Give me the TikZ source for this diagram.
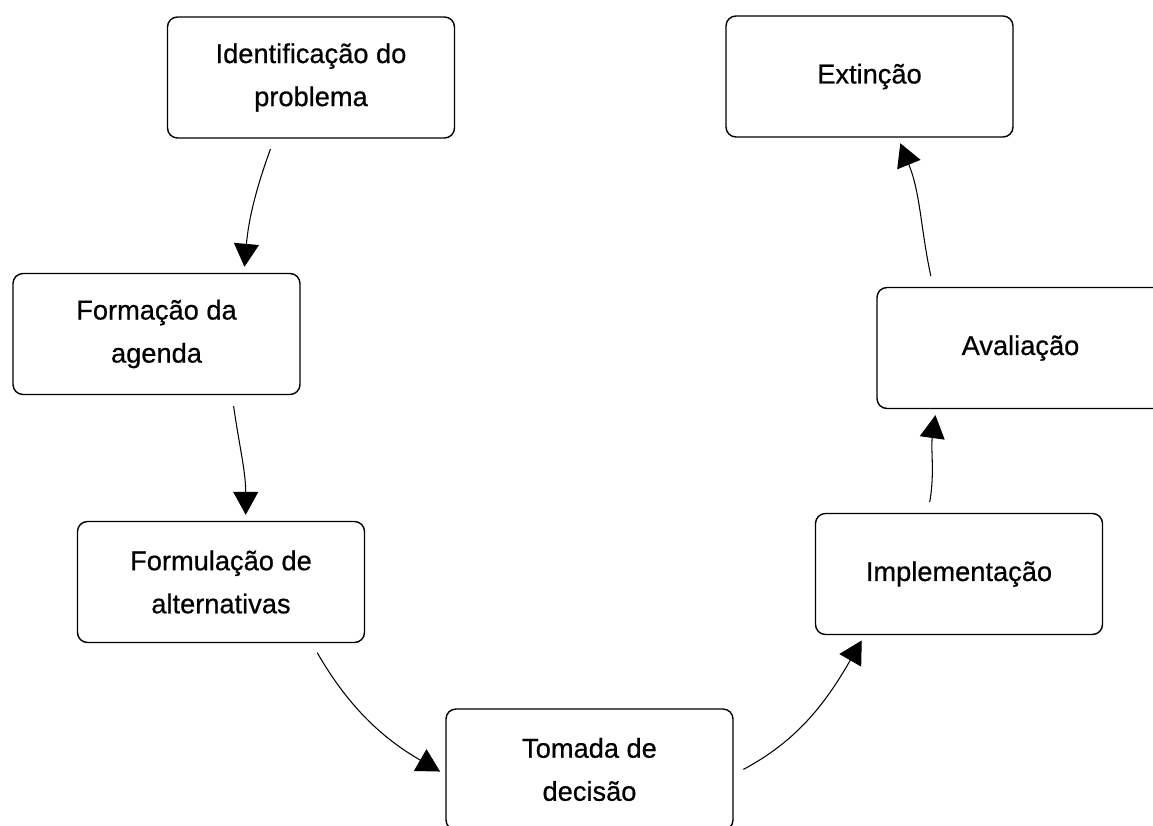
\documentclass[tikz,border=0pt]{standalone}
\usepackage{fontspec}
\setmainfont[UprightFeatures={FakeBold=0.6}]{Liberation Sans}
\usetikzlibrary{arrows.meta,positioning}

\begin{document}
\begin{tikzpicture}[>={Triangle[length=0.46cm,width=0.5cm]},shorten >=0.12cm,shorten <=0.22cm,on grid,
    stage/.style={draw,line width=0.8pt,rounded corners=0.2cm,minimum width=5.74cm,
      minimum height=2.42cm,align=center,font=\fontsize{15.5}{24.5}\selectfont}]
   \useasboundingbox (0,0) rectangle (23.06,-16.5);
   \clip (0,0) rectangle (23.06,-16.5);
   \node[stage] (ident) at (6.22,-1.55) {Identificação do\\problema};
   \node[stage] (agenda) [below left=5.13cm and 3.09cm of ident] {Formação da\\agenda};
   \node[stage] (altern) [below right=4.96cm and 1.29cm of agenda] {Formulação de\\alternativas};
   \node[stage] (decisao) [below right=3.75cm and 7.37cm of altern] {Tomada de\\decisão};
   \node[stage] (implem) [above right=3.91cm and 7.39cm of decisao] {Implementação};
   \node[stage] (aval) [above right=4.52cm and 1.23cm of implem] {Avaliação};
   \node[stage] (extin) [above left=5.43cm and 3.02cm of aval] {Extinção};
    \path[->,line width=0.6pt]
    (ident.239) edge [out=250,in=85] (agenda.35)
    (agenda.321) edge [out=278,in=90] (altern.68)
    (altern.326) edge [out=300,in=150] (decisao.182)
    (decisao.358) edge [out=28,in=240] (implem.213)
    (implem.117) edge [out=80,in=262] (aval.216)
    (aval.145) edge [out=102,in=292] (extin.295);
\end{tikzpicture}
\end{document}
